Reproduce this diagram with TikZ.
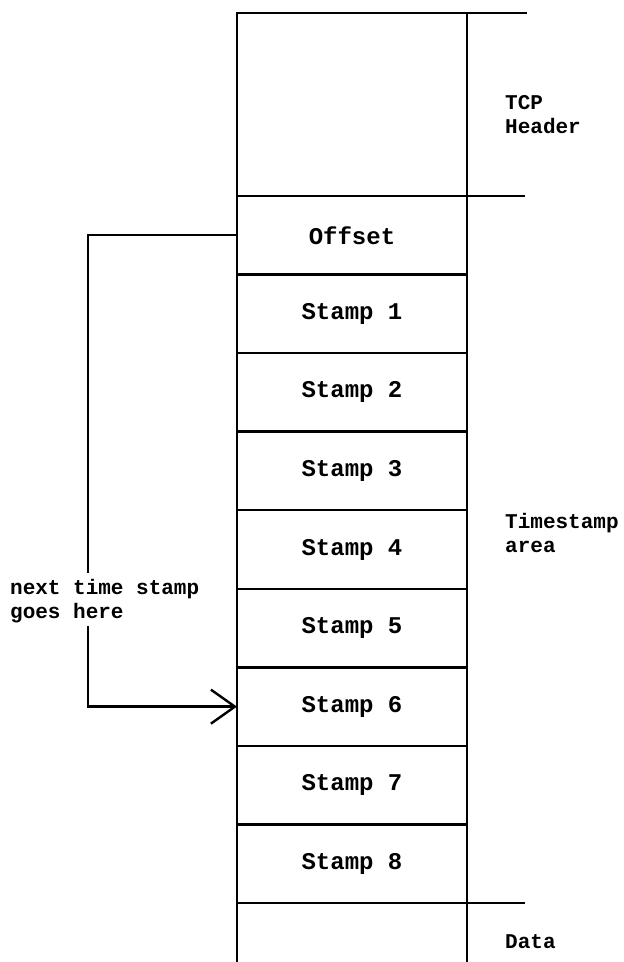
\documentclass[tikz,border=0pt]{standalone}
\usepackage{fontspec}
\usetikzlibrary{arrows.meta}
\newfontfamily\monofnt{Liberation Mono}
\newcommand{\cellfnt}{\monofnt\bfseries\fontsize{24}{28}\selectfont}
\newcommand{\sidefnt}{\monofnt\bfseries\fontsize{21}{24}\selectfont}
\tikzset{
  wall/.style={line width=2.4pt},
  cell/.style={draw, line width=2.4pt, outer sep=0pt, minimum width=230pt, minimum height=78.56pt, inner sep=0pt, font=\cellfnt},
  side/.style={anchor=north west, align=left, inner sep=0pt, font=\sidefnt}
}
\begin{document}
\begin{tikzpicture}[x=1pt,y=-1pt]
\useasboundingbox (0,0) rectangle (624,962);
\clip (0,0) rectangle (624,962);
\fill[white] (0,0) rectangle (624,962);
% stack of fields
\node[cell, minimum height=183pt] (hdr) at (352,104.5) {};
\node[cell] (off) at (352,235.28) {Offset};
\node[cell] (s1) at (352,313.84) {Stamp 1};
\node[cell] (s2) at (352,392.40) {Stamp 2};
\node[cell] (s3) at (352,470.96) {Stamp 3};
\node[cell] (s4) at (352,549.52) {Stamp 4};
\node[cell] (s5) at (352,628.08) {Stamp 5};
\node[cell] (s6) at (352,706.64) {Stamp 6};
\node[cell] (s7) at (352,785.20) {Stamp 7};
\node[cell] (s8) at (352,863.76) {Stamp 8};
\node[minimum width=230pt, minimum height=80pt, inner sep=0pt, outer sep=0pt] (data) at (352,943.04) {};
\draw[wall] (data.south west) -- (data.north west) -- (data.north east) -- (data.south east);
% extensions to the right
\draw[wall] (hdr.north east) -- ++(60,0);
\draw[wall] (hdr.south east) -- ++(58,0);
\draw[wall] (s8.south east) -- ++(58,0);
% side labels
\node[side] (tcp) at (505,95) {TCP\\Header};
\node[side] (tsa) at (505,513) {Timestamp\\area};
\node[side] (dat) at (505,934) {Data};
% pointer
\node[side] (nt) at (10,579) {next time stamp\\goes here};
\coordinate (bend) at (88,0);
\draw[wall, shorten >=6pt] (off.west) -- (off.west -| bend) -- (bend |- nt.north);
\draw[wall, shorten <=3pt, -{Straight Barb[length=24pt,width=34pt]}] (bend |- nt.south) |- (s6.west);
\end{tikzpicture}
\end{document}
